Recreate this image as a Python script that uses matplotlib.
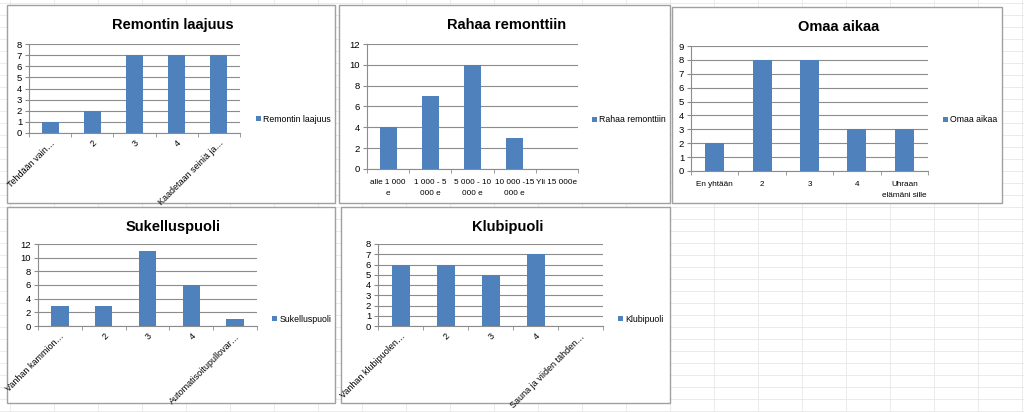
import matplotlib
matplotlib.use("Agg")
import matplotlib.pyplot as plt
from matplotlib.patches import Rectangle
from matplotlib.lines import Line2D

W, H = 1024, 412

# data
titles = ["Remontin laajuus", "Rahaa remonttiin", "Omaa aikaa", "Sukelluspuoli", "Klubipuoli"]

laajuus_labels = ["Tehdään vain…", "2", "3", "4", "Kaadetaan seiniä ja…"]
laajuus_values = [1, 2, 7, 7, 7]

raha_labels = ["alle 1 000\ne", "1 000 - 5\n000 e", "5 000 - 10\n000 e", "10 000 -15\n000 e", "Yli 15 000e"]
raha_values = [4, 7, 10, 3, 0]

aika_labels = ["En yhtään", "2", "3", "4", "Uhraan\nelämäni sille"]
aika_values = [2, 8, 8, 3, 3]

sukellus_labels = ["Vanhan kammion…", "2", "3", "4", "Automatisoitupullovar…"]
sukellus_values = [3, 3, 11, 6, 1]

klubi_labels = ["Vanhan klubipuolen…", "2", "3", "4", "Sauna ja viiden tähden…"]
klubi_values = [6, 6, 5, 7, 0]

BAR = "#4F81BD"
GRID = "#8C8C8C"
FONT = "Liberation Sans"

fig = plt.figure(figsize=(W / 100, H / 100), dpi=100)
fig.patch.set_facecolor("white")


def fx(x):
    return x / W


def fy(y):
    return 1 - y / H


# spreadsheet cell lines in the background
for y in range(3, H, 12):
    fig.add_artist(Line2D([0, 1], [fy(y), fy(y)], color="#E8E8E8", lw=0.6, zorder=0))
for x in range(10, W, 44):
    fig.add_artist(Line2D([fx(x), fx(x)], [0, 1], color="#E8E8E8", lw=0.6, zorder=0))


def chart(box, plot, title, labels, values, ymax, ystep, rotate, legx, legy):
    bx0, by0, bx1, by1 = box
    fig.add_artist(Rectangle((fx(bx0), fy(by1)), fx(bx1 - bx0), (by1 - by0) / H,
                             facecolor="white", edgecolor="#A0A0A0", lw=1.0, zorder=1))
    fig.text(fx((bx0 + bx1) / 2 + 2), fy(by0 + 20), title, ha="center", va="center",
             fontsize=10.5, fontweight="bold", family=FONT, zorder=3)
    px0, py0, px1, py1 = plot
    ax = fig.add_axes([fx(px0), fy(py1), fx(px1 - px0), (py1 - py0) / H], zorder=2)
    ax.set_facecolor("none")
    x = list(range(len(values)))
    ax.bar(x, values, width=0.4, color=BAR, label=title, zorder=3)
    ax.set_xlim(-0.5, len(values) - 0.5)
    ax.set_ylim(0, ymax)
    ax.set_yticks(range(0, ymax + 1, ystep))
    ax.yaxis.grid(True, color=GRID, lw=0.8)
    ax.set_axisbelow(True)
    for s in ["top", "right"]:
        ax.spines[s].set_visible(False)
    for s in ["left", "bottom"]:
        ax.spines[s].set_color(GRID)
        ax.spines[s].set_linewidth(0.8)
    ax.tick_params(axis="y", labelsize=6.8, length=3, color=GRID, pad=2)
    ax.set_xticks([i - 0.5 for i in range(len(values) + 1)], minor=True)
    ax.tick_params(axis="x", which="minor", length=3, color=GRID)
    ax.set_xticks(x)
    if rotate:
        ax.tick_params(axis="x", which="major", length=0, labelsize=6.5, pad=4)
        ax.set_xticklabels(labels, rotation=45, ha="right", rotation_mode="anchor")
    else:
        ax.tick_params(axis="x", which="major", length=0, labelsize=5.9, pad=7)
        ax.set_xticklabels(labels)
        for t in ax.get_xticklabels():
            t.set_linespacing(1.9)
    for t in ax.get_xticklabels() + ax.get_yticklabels():
        t.set_family(FONT)
    ax.legend(loc="center left", bbox_to_anchor=(fx(legx), fy(legy)),
              bbox_transform=fig.transFigure, frameon=False,
              prop={"family": FONT, "size": 6.3}, handlelength=0.6, handleheight=0.6,
              handletextpad=0.3, borderaxespad=0)
    return ax


chart((7, 5, 335, 203), (29, 44, 240, 133), titles[0], laajuus_labels, laajuus_values,
      8, 1, True, 252, 119)
chart((339, 5, 670, 203), (367, 44, 578, 169), titles[1], raha_labels, raha_values,
      12, 2, False, 588, 120)
chart((672, 7, 1002, 203), (691, 46, 928, 171), titles[2], aika_labels, aika_values,
      9, 1, False, 939, 120)
chart((7, 207, 335, 403), (38, 244, 257, 326), titles[3], sukellus_labels, sukellus_values,
      12, 2, True, 268, 319)
chart((341, 207, 670, 403), (378, 244, 603, 326), titles[4], klubi_labels, klubi_values,
      8, 1, True, 614, 319)

fig.savefig("out.png", dpi=100)
